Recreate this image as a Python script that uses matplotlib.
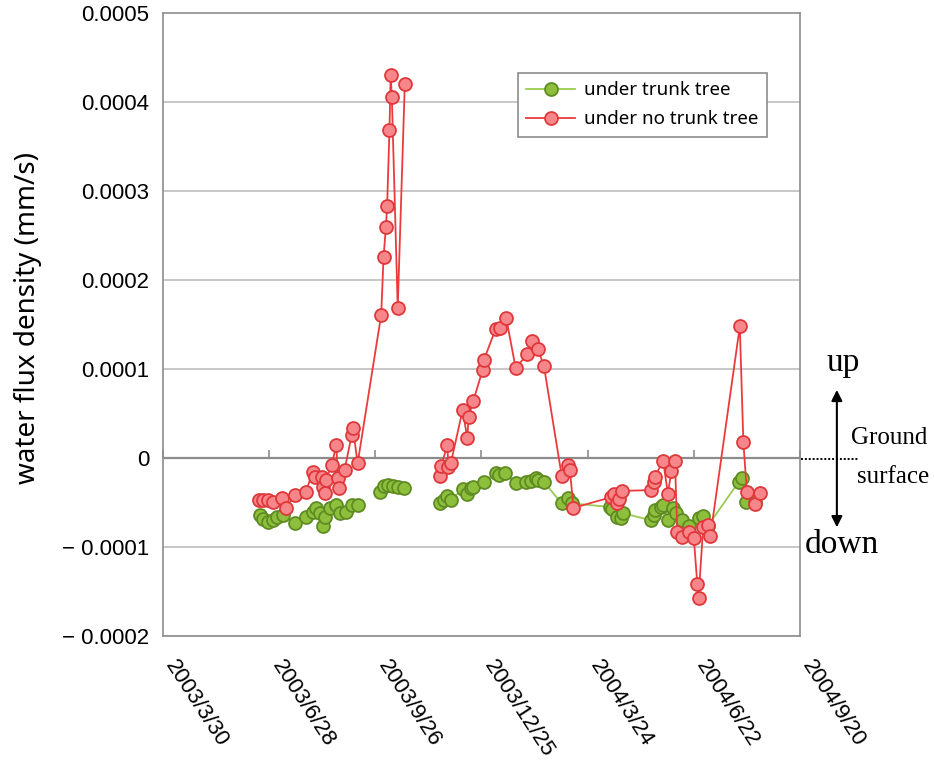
import matplotlib
matplotlib.use("Agg")
import matplotlib.pyplot as plt
import matplotlib.transforms as mtransforms
import numpy as np
import pandas as pd

# water flux density, in units of 1e-4 mm/s, split into the runs that are joined by a line
trunk_dates_a = ["2003-06-20", "2003-06-23", "2003-06-27", "2003-07-01", "2003-07-05",
                 "2003-07-10", "2003-07-20", "2003-07-29", "2003-08-04", "2003-08-07",
                 "2003-08-10", "2003-08-13", "2003-08-14", "2003-08-19", "2003-08-24",
                 "2003-08-27", "2003-09-01", "2003-09-06", "2003-09-11"]
trunk_flux_a = [-0.64, -0.69, -0.72, -0.70, -0.66, -0.64, -0.73, -0.66, -0.61, -0.56,
                -0.62, -0.76, -0.66, -0.56, -0.53, -0.62, -0.61, -0.53, -0.53]

trunk_dates_b = ["2003-09-30", "2003-10-03", "2003-10-07", "2003-10-11", "2003-10-15", "2003-10-20"]
trunk_flux_b = [-0.38, -0.31, -0.30, -0.31, -0.32, -0.34]

trunk_dates_c = ["2003-11-20", "2003-11-23", "2003-11-26", "2003-11-29", "2003-12-09",
                 "2003-12-13", "2003-12-16", "2003-12-18", "2003-12-27", "2004-01-06",
                 "2004-01-09", "2004-01-14", "2004-01-23", "2004-02-01", "2004-02-05",
                 "2004-02-09", "2004-02-11", "2004-02-16", "2004-03-02", "2004-03-07",
                 "2004-03-11", "2004-04-12", "2004-04-14", "2004-04-18", "2004-04-21",
                 "2004-04-23", "2004-05-17", "2004-05-19", "2004-05-20", "2004-05-25",
                 "2004-05-27", "2004-05-31", "2004-06-04", "2004-06-07", "2004-06-12",
                 "2004-06-18", "2004-06-26", "2004-06-30", "2004-07-04", "2004-07-30",
                 "2004-08-02", "2004-08-05", "2004-08-13"]
trunk_flux_c = [-0.51, -0.47, -0.43, -0.47, -0.35, -0.40, -0.34, -0.32, -0.27, -0.17,
                -0.19, -0.17, -0.28, -0.27, -0.26, -0.22, -0.25, -0.27, -0.51, -0.45,
                -0.51, -0.55, -0.57, -0.66, -0.67, -0.62, -0.70, -0.64, -0.58, -0.55,
                -0.53, -0.70, -0.56, -0.62, -0.70, -0.76, -0.67, -0.65, -0.76, -0.27,
                -0.23, -0.49, -0.49]

notrunk_dates_a = ["2003-06-19", "2003-06-23", "2003-06-27", "2003-07-01", "2003-07-09",
                   "2003-07-12", "2003-07-20", "2003-07-29", "2003-08-04", "2003-08-06",
                   "2003-08-12", "2003-08-13", "2003-08-14", "2003-08-15", "2003-08-20",
                   "2003-08-24", "2003-08-25", "2003-08-26", "2003-08-31", "2003-09-06",
                   "2003-09-07", "2003-09-11", "2003-10-01", "2003-10-03", "2003-10-05",
                   "2003-10-06", "2003-10-08", "2003-10-09", "2003-10-10", "2003-10-15",
                   "2003-10-21"]
notrunk_flux_a = [-0.47, -0.47, -0.47, -0.49, -0.45, -0.56, -0.42, -0.38, -0.16, -0.21,
                  -0.21, -0.33, -0.39, -0.25, -0.08, 0.15, -0.22, -0.34, -0.13, 0.26,
                  0.34, -0.06, 1.61, 2.26, 2.60, 2.83, 3.69, 4.30, 4.06, 1.69,
                  4.20]

notrunk_dates_b = ["2003-11-20", "2003-11-21", "2003-11-26", "2003-11-27", "2003-11-29",
                   "2003-12-09", "2003-12-13", "2003-12-14", "2003-12-18", "2003-12-26",
                   "2003-12-27", "2004-01-06", "2004-01-10", "2004-01-15", "2004-01-23",
                   "2004-02-02", "2004-02-06", "2004-02-11", "2004-02-16", "2004-03-02",
                   "2004-03-07", "2004-03-09", "2004-03-12", "2004-04-13", "2004-04-15",
                   "2004-04-18", "2004-04-20", "2004-04-22", "2004-05-17", "2004-05-19",
                   "2004-05-20", "2004-05-27", "2004-05-31", "2004-06-03", "2004-06-06",
                   "2004-06-08", "2004-06-12", "2004-06-18", "2004-06-22", "2004-06-25",
                   "2004-06-26", "2004-06-30", "2004-07-04", "2004-07-06", "2004-07-31",
                   "2004-08-03", "2004-08-06", "2004-08-13", "2004-08-17"]
notrunk_flux_b = [-0.20, -0.09, 0.15, -0.10, -0.06, 0.54, 0.22, 0.46, 0.64, 0.99,
                  1.10, 1.45, 1.46, 1.57, 1.01, 1.17, 1.32, 1.22, 1.03, -0.20,
                  -0.08, -0.14, -0.56, -0.44, -0.40, -0.50, -0.46, -0.37, -0.36, -0.27,
                  -0.21, -0.03, -0.40, -0.15, -0.03, -0.83, -0.89, -0.83, -0.90, -1.42,
                  -1.57, -0.77, -0.75, -0.88, 1.48, 0.18, -0.38, -0.52, -0.39]

tick_dates = pd.date_range("2003-03-30", "2004-09-20", freq="90D")
y_ticks = [0.0005, 0.0004, 0.0003, 0.0002, 0.0001, 0, -0.0001, -0.0002]
y_labels = ["0.0005", "0.0004", "0.0003", "0.0002", "0.0001", "0",
            "\u2212 0.0001", "\u2212 0.0002"]

GREEN_LINE = "#9BCB52"
GREEN_FACE = "#8DBF3C"
GREEN_EDGE = "#5E8B22"
RED_LINE = "#EC3A3C"
RED_FACE = "#F7868A"
RED_EDGE = "#E0383A"

fig = plt.figure(figsize=(9.34, 7.63), dpi=100)
ax = fig.add_axes([0.1745, 0.1664, 0.682, 0.8166])

trunk_style = dict(color=GREEN_LINE, lw=1.3, marker="o", ms=9.3, mfc=GREEN_FACE,
                   mec=GREEN_EDGE, mew=1.3, zorder=3)
notrunk_style = dict(color=RED_LINE, lw=1.3, marker="o", ms=9.3, mfc=RED_FACE,
                     mec=RED_EDGE, mew=1.3, zorder=4)

for d, v, lab in [(trunk_dates_a, trunk_flux_a, "under trunk tree"),
                  (trunk_dates_b, trunk_flux_b, None),
                  (trunk_dates_c, trunk_flux_c, None)]:
    ax.plot(pd.to_datetime(d), np.array(v) * 1e-4, label=lab, **trunk_style)

for d, v, lab in [(notrunk_dates_a, notrunk_flux_a, "under no trunk tree"),
                  (notrunk_dates_b, notrunk_flux_b, None)]:
    ax.plot(pd.to_datetime(d), np.array(v) * 1e-4, label=lab, **notrunk_style)

ax.set_xlim(tick_dates[0], tick_dates[-1])
ax.set_ylim(-0.0002, 0.0005)

# horizontal gridlines, darker line through zero with small upward ticks
for yv in y_ticks[1:]:
    if yv == 0:
        continue
    ax.axhline(yv, color="#BEBEBE", lw=1.2, zorder=1)
ax.axhline(0, color="#8C8C8C", lw=1.6, zorder=2)
ax.plot(tick_dates, np.zeros(len(tick_dates)), ls="none", marker=2, ms=6,
        mew=1.2, color="#8C8C8C", zorder=2, clip_on=False)

for s in ax.spines.values():
    s.set_color("#8C8C8C")
    s.set_linewidth(1.2)

ax.set_yticks(y_ticks)
ax.set_yticklabels(y_labels, fontsize=16, family="Liberation Sans")
ax.tick_params(axis="y", length=0, pad=10)

ax.set_xticks(tick_dates)
ax.set_xticklabels([f"{t.year}/{t.month}/{t.day}" for t in tick_dates],
                   rotation=-57, ha="left", va="center", rotation_mode="anchor",
                   fontsize=16, family="Liberation Sans")
ax.tick_params(axis="x", length=0, pad=19)
shift = mtransforms.ScaledTranslation(0.07, 0, fig.dpi_scale_trans)
for lbl in ax.get_xticklabels():
    lbl.set_transform(lbl.get_transform() + shift)

ax.set_ylabel("water flux density (mm/s)", fontsize=20, family="Noto Sans")
ax.yaxis.set_label_coords(-0.19, 0.51)

leg = ax.legend(loc="upper left", bbox_to_anchor=(0.557, 0.904),
                prop={"family": "Noto Sans", "size": 13.5}, frameon=True,
                fancybox=False, framealpha=1, edgecolor="#8C8C8C",
                handlelength=2.6, handletextpad=0.5, borderpad=0.45,
                labelspacing=0.6, borderaxespad=0)
leg.get_frame().set_linewidth(1.2)

# ground surface indicator to the right of the plot
serif = "Liberation Serif"
fig.text(0.903, 0.525, "up", fontsize=24, family=serif, ha="center", va="center")
fig.text(0.901, 0.286, "down", fontsize=24, family=serif, ha="center", va="center")
fig.text(0.952, 0.426, "Ground", fontsize=18, family=serif, ha="center", va="center")
fig.text(0.956, 0.375, "surface", fontsize=18, family=serif, ha="center", va="center")
ax.annotate("", xy=(0.896, 0.489), xytext=(0.896, 0.309), xycoords="figure fraction",
            arrowprops=dict(arrowstyle="<|-|>", color="black", lw=1.5,
                            mutation_scale=16, shrinkA=0, shrinkB=0))
fig.add_artist(plt.Line2D([0.858, 0.920], [0.399, 0.399], transform=fig.transFigure,
                          color="black", lw=1.4, ls=(0, (1, 1))))

fig.savefig("out.png", dpi=100)
